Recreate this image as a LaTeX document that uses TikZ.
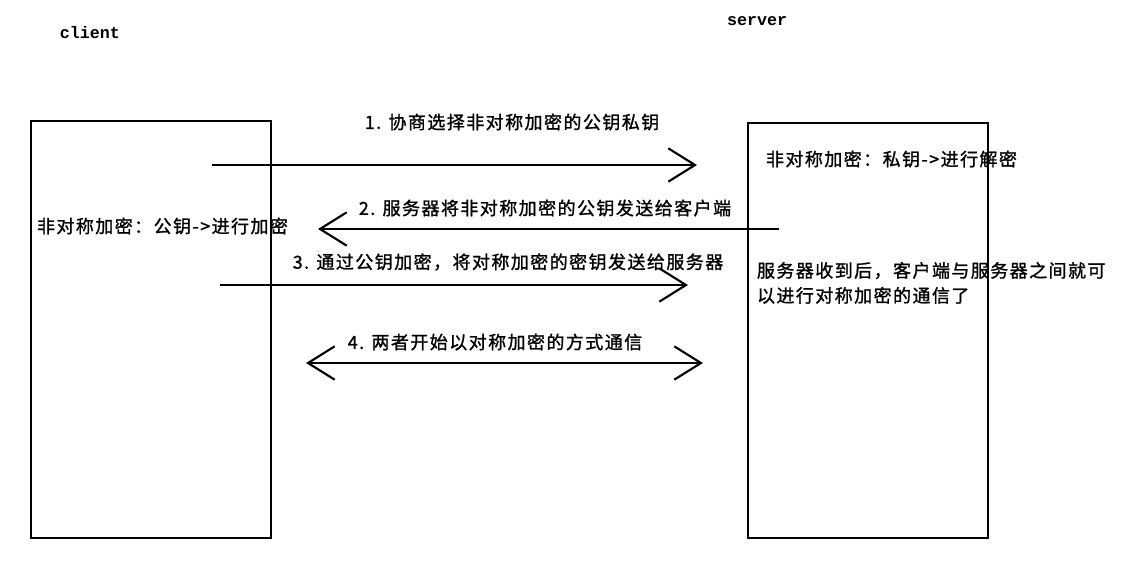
\documentclass[tikz,border=0pt]{standalone}
\usepackage{fontspec}
\setmainfont[LetterSpace=8, FakeBold=1.2]{Noto Sans CJK SC}
\newfontfamily\tagfont{Liberation Mono Bold}
\usetikzlibrary{arrows.meta}

\begin{document}
\begin{tikzpicture}[
  x=0.75pt, y=-0.75pt, line width=1.6pt,
  >={Straight Barb[length=20pt,width=25pt]},
  every node/.style={inner sep=0pt, outer sep=0pt},
  txt/.style={font=\fontsize{13.5pt}{18.75pt}\selectfont},
  tag/.style={font=\tagfont\fontsize{12.5pt}{15pt}\selectfont},
  host/.style={draw, line width=1.6pt, minimum width=180pt}
]
\useasboundingbox (0,0) rectangle (1134,583);

% the two parties
\node[host, minimum height=312.75pt] (client) at (151,329.5) {};
\node[host, minimum height=311.25pt] (server) at (868,330.5) {};
\node[tag] (clientname) at (90,33) {client};
\node[tag] (servername) at (757,21) {server};

% free ends of the messages
\coordinate (m1s) at (212,165);  \coordinate (m1e) at (697,165);
\coordinate (m2s) at (779,229);  \coordinate (m2e) at (318,229);
\coordinate (m3s) at (220,285);  \coordinate (m3e) at (688,285);
\coordinate (m4s) at (306,363);  \coordinate (m4e) at (703,363);

\draw[->] (m1s) -- (m1e);
\draw[->] (m2s) -- (m2e);
\draw[->] (m3s) -- (m3e);
\draw[<->] (m4s) -- (m4e);

\node[txt] (step1) at (512,122) {1. 协商选择非对称加密的公钥私钥};
\node[txt] (step2) at (545,208) {2. 服务器将非对称加密的公钥发送给客户端};
\node[txt] (step3) at (508,262) {3. 通过公钥加密，将对称加密的密钥发送给服务器};
\node[txt] (step4) at (495,342) {4. 两者开始以对称加密的方式通信};

\node[txt, anchor=west] (pubkey) at (37,226) {非对称加密：公钥->进行加密};
\node[txt, anchor=west] (privkey) at (766,159) {非对称加密：私钥->进行解密};
\node[txt, anchor=north west, align=left] (done) at (757,262)
  {服务器收到后，客户端与服务器之间就可\\以进行对称加密的通信了};
\end{tikzpicture}
\end{document}
